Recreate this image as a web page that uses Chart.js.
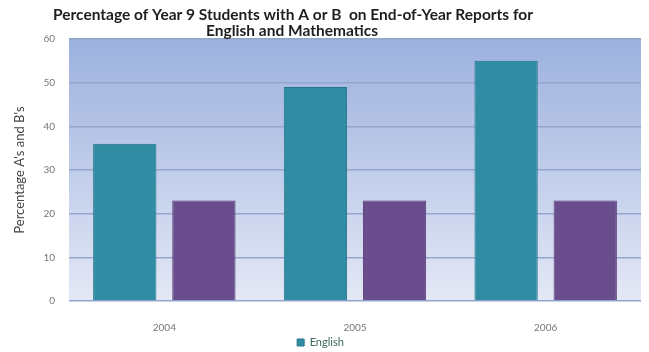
<!DOCTYPE html>
<html>
<head>
<meta charset="utf-8">
<script src="https://cdn.jsdelivr.net/npm/chart.js@4"></script>
<style>
  html, body { margin: 0; padding: 0; background: #fff; }
  #wrap { width: 649px; height: 352px; position: relative; }
</style>
</head>
<body>
<div id="wrap"><canvas id="chart"></canvas></div>
<script>
// dữ liệu
const years = ['2004', '2005', '2006'];
const english = [36, 49, 55];
const maths = [23, 23, 23];
const seriesNames = ['English', 'Mathematics'];
const titleLines = ['Percentage of Year 9 Students with A or B  on End-of-Year Reports for', 'English and Mathematics'];
const yTitle = "Percentage A's and B's";
const yMax = 60, yStep = 10;

// nền gradient cho vùng vẽ
const plotBg = {
  id: 'plotBg',
  beforeDraw(chart) {
    const { ctx, chartArea: a } = chart;
    const g = ctx.createLinearGradient(0, a.top, 0, a.bottom);
    g.addColorStop(0, '#9cb1de');
    g.addColorStop(1, '#e4e8f6');
    ctx.save();
    ctx.fillStyle = g;
    ctx.fillRect(a.left, a.top, a.right - a.left, a.bottom - a.top);
    ctx.restore();
  }
};

// tiêu đề hai dòng, lệch trái như ảnh gốc
const titlePlugin = {
  id: 'titlePlugin',
  afterDraw(chart) {
    const ctx = chart.ctx;
    ctx.save();
    ctx.font = 'bold 15.5px Lato';
    ctx.fillStyle = '#1e1e1e';
    ctx.textAlign = 'center';
    ctx.textBaseline = 'middle';
    ctx.fillText(titleLines[0], 293, 15);
    ctx.fillText(titleLines[1], 292, 31);
    ctx.restore();
  }
};

new Chart(document.getElementById('chart'), {
  type: 'bar',
  data: {
    labels: years,
    datasets: [{
      label: seriesNames[0],
      data: english,
      backgroundColor: '#2f8ca3',
      borderColor: '#25768b',
      borderWidth: 1,
      categoryPercentage: 0.83,
      barPercentage: 0.8
    }, {
      label: seriesNames[1],
      data: maths,
      backgroundColor: '#6a4d8c',
      borderColor: '#573c75',
      borderWidth: 1,
      categoryPercentage: 0.83,
      barPercentage: 0.8
    }]
  },
  options: {
    responsive: true, maintainAspectRatio: false,
    animation: false,
    layout: { padding: { top: 39, right: 8, left: 0, bottom: -6 } },
    scales: {
      x: {
        grid: { display: false },
        border: { display: false },
        ticks: { color: '#777', font: { family: 'Lato', size: 10 }, padding: 13 },
        afterFit: s => { s.height = 34; }
      },
      y: {
        min: 0, max: yMax,
        ticks: { stepSize: yStep, color: '#777', font: { family: 'Lato', size: 10 }, padding: 14 },
        grid: { color: '#94a6cc', lineWidth: 1.5, drawTicks: false },
        border: { display: false },
        title: { display: true, text: yTitle, color: '#444', font: { family: 'Lato', size: 13 }, padding: { top: 12, bottom: 0 } },
        afterFit: s => { s.width = 69; }
      }
    },
    plugins: {
      legend: {
        position: 'bottom',
        labels: {
          filter: item => item.datasetIndex === 0,
          boxWidth: 7, boxHeight: 7,
          color: '#3a6b55',
          font: { family: 'Lato', size: 11 },
          padding: 2
        }
      },
      title: { display: false },
      tooltip: { enabled: false }
    }
  },
  plugins: [plotBg, titlePlugin]
});
</script>
</body>
</html>
